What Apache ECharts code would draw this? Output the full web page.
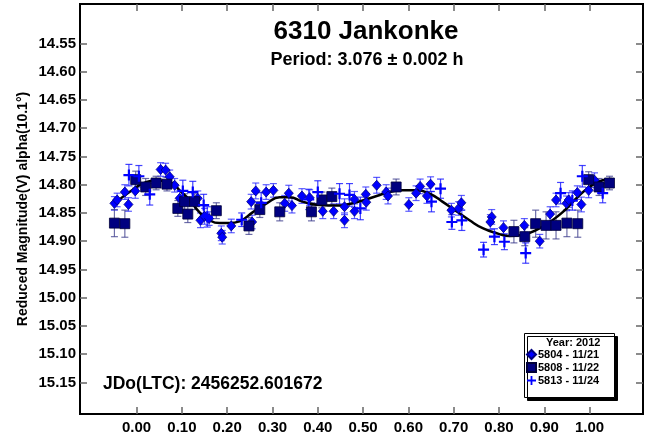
<!DOCTYPE html>
<html>
<head>
<meta charset="utf-8">
<script src="https://cdn.jsdelivr.net/npm/echarts@6/dist/echarts.min.js"></script>
<style>
  html, body { margin: 0; padding: 0; background: #ffffff; }
  #chart { width: 649px; height: 438px; }
</style>
</head>
<body>
<div id="chart"></div>
<script>
// Lightcurve of 6310 Jankonke: reduced magnitude vs. rotational phase.
// Each point: [phase, reduced magnitude, 1-sigma error]

const session5804 = [
  [-0.049, 14.833, 0.012], [-0.043, 14.827, 0.012], [-0.026, 14.813, 0.013], [-0.018, 14.835, 0.012],
  [-0.003, 14.811, 0.013], [0.053, 14.773, 0.012], [0.064, 14.774, 0.012], [0.073, 14.786, 0.012],
  [0.084, 14.801, 0.012], [0.095, 14.824, 0.013], [0.135, 14.824, 0.013], [0.141, 14.863, 0.013],
  [0.150, 14.856, 0.014], [0.160, 14.860, 0.012], [0.187, 14.886, 0.013], [0.189, 14.893, 0.012],
  [0.209, 14.873, 0.012], [0.255, 14.866, 0.012], [0.253, 14.830, 0.013], [0.263, 14.811, 0.014],
  [0.286, 14.813, 0.013], [0.302, 14.810, 0.012], [0.327, 14.833, 0.014], [0.336, 14.815, 0.014],
  [0.343, 14.837, 0.013], [0.365, 14.820, 0.013], [0.382, 14.823, 0.014], [0.411, 14.847, 0.013],
  [0.435, 14.847, 0.013], [0.459, 14.839, 0.014], [0.459, 14.863, 0.013], [0.481, 14.826, 0.014],
  [0.481, 14.847, 0.013], [0.506, 14.817, 0.013], [0.507, 14.831, 0.014], [0.530, 14.801, 0.014],
  [0.551, 14.813, 0.013], [0.555, 14.820, 0.014], [0.601, 14.835, 0.012], [0.617, 14.815, 0.013],
  [0.626, 14.803, 0.013], [0.641, 14.820, 0.013], [0.649, 14.799, 0.013], [0.695, 14.845, 0.012],
  [0.711, 14.842, 0.012], [0.717, 14.832, 0.013], [0.784, 14.857, 0.013], [0.781, 14.866, 0.013],
  [0.810, 14.876, 0.012], [0.856, 14.872, 0.012], [0.890, 14.900, 0.012], [0.913, 14.852, 0.013],
  [0.926, 14.827, 0.012], [0.949, 14.833, 0.013], [0.954, 14.827, 0.013], [0.973, 14.814, 0.012],
  [0.982, 14.835, 0.013], [0.998, 14.810, 0.013], [1.011, 14.792, 0.013]
];

const session5808 = [
  [-0.049, 14.868, 0.024], [-0.026, 14.869, 0.024], [-0.002, 14.791, 0.015], [0.020, 14.804, 0.015],
  [0.043, 14.797, 0.012], [0.067, 14.799, 0.012], [0.091, 14.842, 0.014], [0.106, 14.830, 0.014],
  [0.128, 14.830, 0.014], [0.113, 14.852, 0.015], [0.176, 14.846, 0.014], [0.248, 14.873, 0.015],
  [0.272, 14.844, 0.014], [0.316, 14.848, 0.016], [0.386, 14.848, 0.016], [0.409, 14.827, 0.014],
  [0.431, 14.821, 0.015], [0.573, 14.804, 0.014], [0.833, 14.883, 0.020], [0.857, 14.892, 0.016],
  [0.881, 14.869, 0.024], [0.904, 14.872, 0.024], [0.926, 14.872, 0.024], [0.950, 14.868, 0.024],
  [0.974, 14.869, 0.024], [0.998, 14.791, 0.014], [1.021, 14.804, 0.015], [1.044, 14.797, 0.012]
];

const session5813 = [
  [-0.017, 14.783, 0.019], [0.005, 14.785, 0.019], [0.029, 14.817, 0.019], [0.102, 14.811, 0.019],
  [0.124, 14.813, 0.019], [0.148, 14.836, 0.019], [0.156, 14.857, 0.018], [0.232, 14.862, 0.012],
  [0.275, 14.832, 0.018], [0.380, 14.826, 0.018], [0.400, 14.813, 0.020], [0.448, 14.816, 0.018],
  [0.470, 14.818, 0.020], [0.494, 14.842, 0.020], [0.651, 14.830, 0.018], [0.671, 14.807, 0.017],
  [0.696, 14.866, 0.013], [0.718, 14.863, 0.018], [0.766, 14.915, 0.013], [0.790, 14.892, 0.014],
  [0.812, 14.901, 0.014], [0.859, 14.921, 0.018], [0.936, 14.815, 0.019], [0.962, 14.828, 0.017],
  [0.984, 14.785, 0.019], [1.029, 14.815, 0.017]
];

// Fourier fit through the combined sessions
const fitPhase = [-0.049, 0.000, 0.022, 0.044, 0.062, 0.079, 0.095, 0.117, 0.139, 0.161, 0.183,
  0.205, 0.227, 0.256, 0.287, 0.316, 0.338, 0.366, 0.404, 0.442, 0.470, 0.499, 0.530, 0.558,
  0.587, 0.618, 0.647, 0.675, 0.706, 0.735, 0.764, 0.795, 0.823, 0.852, 0.883, 0.912, 0.940,
  0.971, 1.000, 1.029, 1.049];
const fitMag = [14.833, 14.804, 14.795, 14.792, 14.794, 14.797, 14.810, 14.827, 14.849, 14.863, 14.868,
  14.868, 14.865, 14.849, 14.833, 14.822, 14.822, 14.830, 14.836, 14.837, 14.834, 14.828, 14.820, 14.813,
  14.810, 14.810, 14.816, 14.830, 14.847, 14.863, 14.877, 14.886, 14.891, 14.889, 14.880, 14.866, 14.849,
  14.824, 14.804, 14.792, 14.790];

const phaseTicks = [0.00, 0.10, 0.20, 0.30, 0.40, 0.50, 0.60, 0.70, 0.80, 0.90, 1.00];
const magTicks = [14.55, 14.60, 14.65, 14.70, 14.75, 14.80, 14.85, 14.90, 14.95, 15.00, 15.05, 15.10, 15.15];

const sessionNames = ['5804 - 11/21', '5808 - 11/22', '5813 - 11/24'];

const FONT = '"Liberation Sans", Arial, Helvetica, sans-serif';
const PHASE_MIN = -0.125, PHASE_MAX = 1.118;
const MAG_MIN = 14.48, MAG_MAX = 15.206;
const PLUS_PATH = 'path://M4,0H6V4H10V6H6V10H4V6H0V4H4Z';

function errorBars(data, color) {
  return {
    type: 'custom',
    silent: true,
    z: 1,
    data: data,
    encode: { x: 0, y: 1 },
    renderItem: function (params, api) {
      const x = api.value(0), y = api.value(1), e = api.value(2);
      const top = api.coord([x, y - e]);
      const bot = api.coord([x, y + e]);
      const cap = 3.5;
      const style = { stroke: color, lineWidth: 1.2 };
      return {
        type: 'group',
        children: [
          { type: 'line', shape: { x1: top[0], y1: top[1], x2: bot[0], y2: bot[1] }, style: style },
          { type: 'line', shape: { x1: top[0] - cap, y1: top[1], x2: top[0] + cap, y2: top[1] }, style: style },
          { type: 'line', shape: { x1: bot[0] - cap, y1: bot[1], x2: bot[0] + cap, y2: bot[1] }, style: style }
        ]
      };
    }
  };
}

const chart = echarts.init(document.getElementById('chart'), null, { renderer: 'canvas' });

const labelStyle = { color: '#000', fontFamily: FONT, fontWeight: 'bold', fontSize: 15 };
const tickStyle = { lineStyle: { color: '#666', width: 1.5 } };

chart.setOption({
  backgroundColor: '#ffffff',
  animation: false,
  textStyle: { fontFamily: FONT },
  title: [
    { text: '6310 Jankonke', left: 361, top: 14, textAlign: 'center',
      textStyle: { fontFamily: FONT, fontWeight: 'bold', fontSize: 26, color: '#000' } },
    { text: 'Period: 3.076 \u00b1 0.002 h', left: 362, top: 46, textAlign: 'center',
      textStyle: { fontFamily: FONT, fontWeight: 'bold', fontSize: 18, color: '#000' } }
  ],
  grid: { left: 80, top: 4, right: 6, bottom: 24, show: true, borderColor: '#000', borderWidth: 2, backgroundColor: 'transparent' },
  xAxis: [
    {
      type: 'value', min: PHASE_MIN, max: PHASE_MAX, position: 'bottom',
      axisLine: { show: true, onZero: false, lineStyle: { color: '#000', width: 2 } },
      axisTick: { show: true, inside: true, length: 7, customValues: phaseTicks, ...tickStyle },
      axisLabel: { show: true, margin: 6, customValues: phaseTicks, formatter: v => v.toFixed(2), ...labelStyle },
      splitLine: { show: false }
    },
    {
      type: 'value', min: PHASE_MIN, max: PHASE_MAX, position: 'top',
      axisLine: { show: true, onZero: false, lineStyle: { color: '#000', width: 2 } },
      axisTick: { show: true, inside: true, length: 7, customValues: phaseTicks, ...tickStyle },
      axisLabel: { show: false },
      splitLine: { show: false }
    }
  ],
  yAxis: [
    {
      type: 'value', min: MAG_MIN, max: MAG_MAX, inverse: true, position: 'left',
      name: 'Reduced Magnitude(V) alpha(10.1\u00b0)', nameLocation: 'middle', nameGap: 50,
      nameMoveOverlap: false,
      nameTextStyle: { fontFamily: FONT, fontWeight: 'bold', fontSize: 14, color: '#000' },
      axisLine: { show: true, onZero: false, lineStyle: { color: '#000', width: 2 } },
      axisTick: { show: true, inside: true, length: 7, customValues: magTicks, ...tickStyle },
      axisLabel: { show: true, margin: 4, customValues: magTicks, formatter: v => v.toFixed(2), ...labelStyle },
      splitLine: { show: false }
    },
    {
      type: 'value', min: MAG_MIN, max: MAG_MAX, inverse: true, position: 'right',
      axisLine: { show: true, onZero: false, lineStyle: { color: '#000', width: 2 } },
      axisTick: { show: true, inside: true, length: 7, customValues: magTicks, ...tickStyle },
      axisLabel: { show: false },
      splitLine: { show: false }
    }
  ],
  legend: {
    data: sessionNames,
    orient: 'vertical',
    left: 526, top: 349,
    padding: 0, itemGap: 2,
    itemWidth: 9, itemHeight: 9,
    textStyle: { fontFamily: FONT, fontWeight: 'bold', fontSize: 11, color: '#000', padding: [0, 0, 0, -3] },
    selectedMode: false
  },
  graphic: [
    { type: 'rect', left: 524, top: 333, z: 0,
      shape: { width: 90, height: 64 },
      style: { fill: '#fff', stroke: '#000', lineWidth: 1, shadowColor: '#000', shadowOffsetX: 3, shadowOffsetY: 3, shadowBlur: 0 } },
    { type: 'text', left: 546, top: 337, z: 10,
      style: { text: 'Year: 2012', fontFamily: FONT, fontWeight: 'bold', fontSize: 11, fill: '#000' } },
    { type: 'text', left: 103, top: 375, z: 10,
      style: { text: 'JDo(LTC): 2456252.601672', fontFamily: FONT, fontWeight: 'bold', fontSize: 17.5, fill: '#000' } }
  ],
  series: [
    errorBars(session5804, 'rgba(40,40,255,0.75)'),
    errorBars(session5808, 'rgba(60,60,140,0.75)'),
    errorBars(session5813, 'rgba(20,20,255,0.8)'),
    {
      name: 'fit', type: 'line', smooth: true, showSymbol: false, silent: true, z: 2,
      data: fitPhase.map((p, i) => [p, fitMag[i]]),
      lineStyle: { color: '#000', width: 2.5 }
    },
    {
      name: sessionNames[0], type: 'scatter', symbol: 'diamond', symbolSize: [9, 10], z: 3,
      data: session5804,
      itemStyle: { color: '#0000ff', borderColor: '#000080', borderWidth: 0.8, opacity: 1 }
    },
    {
      name: sessionNames[1], type: 'scatter', symbol: 'rect', symbolSize: 10, z: 3,
      data: session5808,
      itemStyle: { color: '#000080', borderColor: '#00003a', borderWidth: 0.8, opacity: 1 }
    },
    {
      name: sessionNames[2], type: 'scatter', symbol: PLUS_PATH, symbolSize: 11, z: 3,
      data: session5813,
      itemStyle: { color: '#0000ff', opacity: 1 }
    }
  ]
});
</script>
</body>
</html>
